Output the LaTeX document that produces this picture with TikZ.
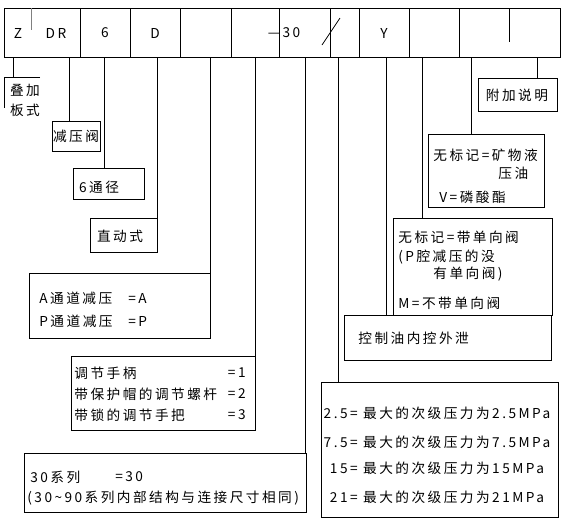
\documentclass[tikz,border=0pt]{standalone}
\usepackage{fontspec}
\setmainfont{Noto Sans CJK SC}[LetterSpace=18]
\usetikzlibrary{fit}
\tikzset{
  box/.style={draw, inner sep=0pt},
  hd/.style={inner sep=0pt, font=\fontsize{10.5}{12}\selectfont},
  txt/.style={hd, anchor=west},
  rt/.style={hd, anchor=east}
}
\begin{document}
\begin{tikzpicture}[x=0.27mm, y=-0.27mm, line width=0.6pt]
    \useasboundingbox (0,0) rectangle (562,523);
    % model code row
    \node[box, fit={(4,8)(560,57)}] (hdr) {};
    \foreach \x in {80,130,180,231,279,330,359,409,459}
        \draw (\x,8) -- (\x,57);
    \draw[gray] (31,8) -- (31,30);
    \draw (509,8) -- (509,42);
    \draw (322,45) -- (340,18);
    \foreach \t/\x in {Z/18, DR/56, 6/105, D/155, ---30/284, Y/384}
        \node[hd] at (\x,33) {\t};

    % boxes
    \node[box, fit={(52,121)(100,151)}] (jianya) {};
    \node[box, fit={(73,168)(144,199)}] (tongjing) {};
    \node[box, fit={(90,218)(157,252)}] (zhidong) {};
    \node[box, fit={(29,273)(210,338)}] (jiankou) {};
    \node[box, fit={(71,356)(255,430)}] (tiaojie) {};
    \node[box, fit={(24,453)(306,512)}] (xilie) {};
    \node[box, fit={(321,382)(558,517)}] (yali) {};
    \node[box, fit={(344,315)(551,360)}] (kongzhi) {};
    \node[box, fit={(393,218)(552,315)}] (danxiang) {};
    \node[box, fit={(428,134)(544,207)}] (youye) {};
    \node[box, fit={(478,78)(557,111)}] (fujia) {};
    \coordinate (diejia) at (13,77);
    \draw (40,77) -- (4,77) -- (4,108);

    % leaders
    \draw (hdr.south -| diejia) -- (diejia);
    \foreach \x/\b in {69/jianya, 104/tongjing, 157/zhidong, 210/jiankou,
        255/tiaojie, 305/xilie, 338/yali, 386/kongzhi, 422/danxiang,
        471/youye, 537/fujia}
        \draw (hdr.south -| \x,0) -- (\b.north -| \x,0);

    % texts
    \node[hd] at (25,90) {叠加};
    \node[hd] at (25,110) {板式};
    \node[hd] at (76,136) {减压阀};
    \node[hd] at (99,187) {6通径};
    \node[hd] at (120,236) {直动式};
    \node[txt] at (39,298) {A通道减压};
    \node[txt] at (128,298) {=A};
    \node[txt] at (39,321) {P通道减压};
    \node[txt] at (128,321) {=P};
    \node[txt] at (74,373) {调节手柄};
    \node[rt] at (246,373) {=1};
    \node[txt] at (74,394) {带保护帽的调节螺杆};
    \node[rt] at (246,394) {=2};
    \node[txt] at (74,415) {带锁的调节手把};
    \node[rt] at (246,415) {=3};
    \node[txt] at (30,477) {30系列};
    \node[txt] at (115,477) {=30};
    \node[txt] at (27,498) {(30\textasciitilde90系列内部结构与连接尺寸相同)};
    \node[hd] at (437,413) {2.5= 最大的次级压力为2.5MPa};
    \node[hd] at (437,442) {7.5= 最大的次级压力为7.5MPa};
    \node[hd] at (437,468) {15= 最大的次级压力为15MPa};
    \node[hd] at (437,497) {21= 最大的次级压力为21MPa};
    \node[txt] at (358,338) {控制油内控外泄};
    \node[txt] at (398,237) {无标记=带单向阀};
    \node[txt] at (398,257) {(P腔减压的没};
    \node[txt] at (433,274) {有单向阀)};
    \node[txt] at (398,303) {M=不带单向阀};
    \node[txt] at (433,155) {无标记=矿物液};
    \node[txt] at (498,173) {压油};
    \node[txt] at (439,197) {V=磷酸酯};
    \node[hd] at (517,95) {附加说明};
\end{tikzpicture}
\end{document}
